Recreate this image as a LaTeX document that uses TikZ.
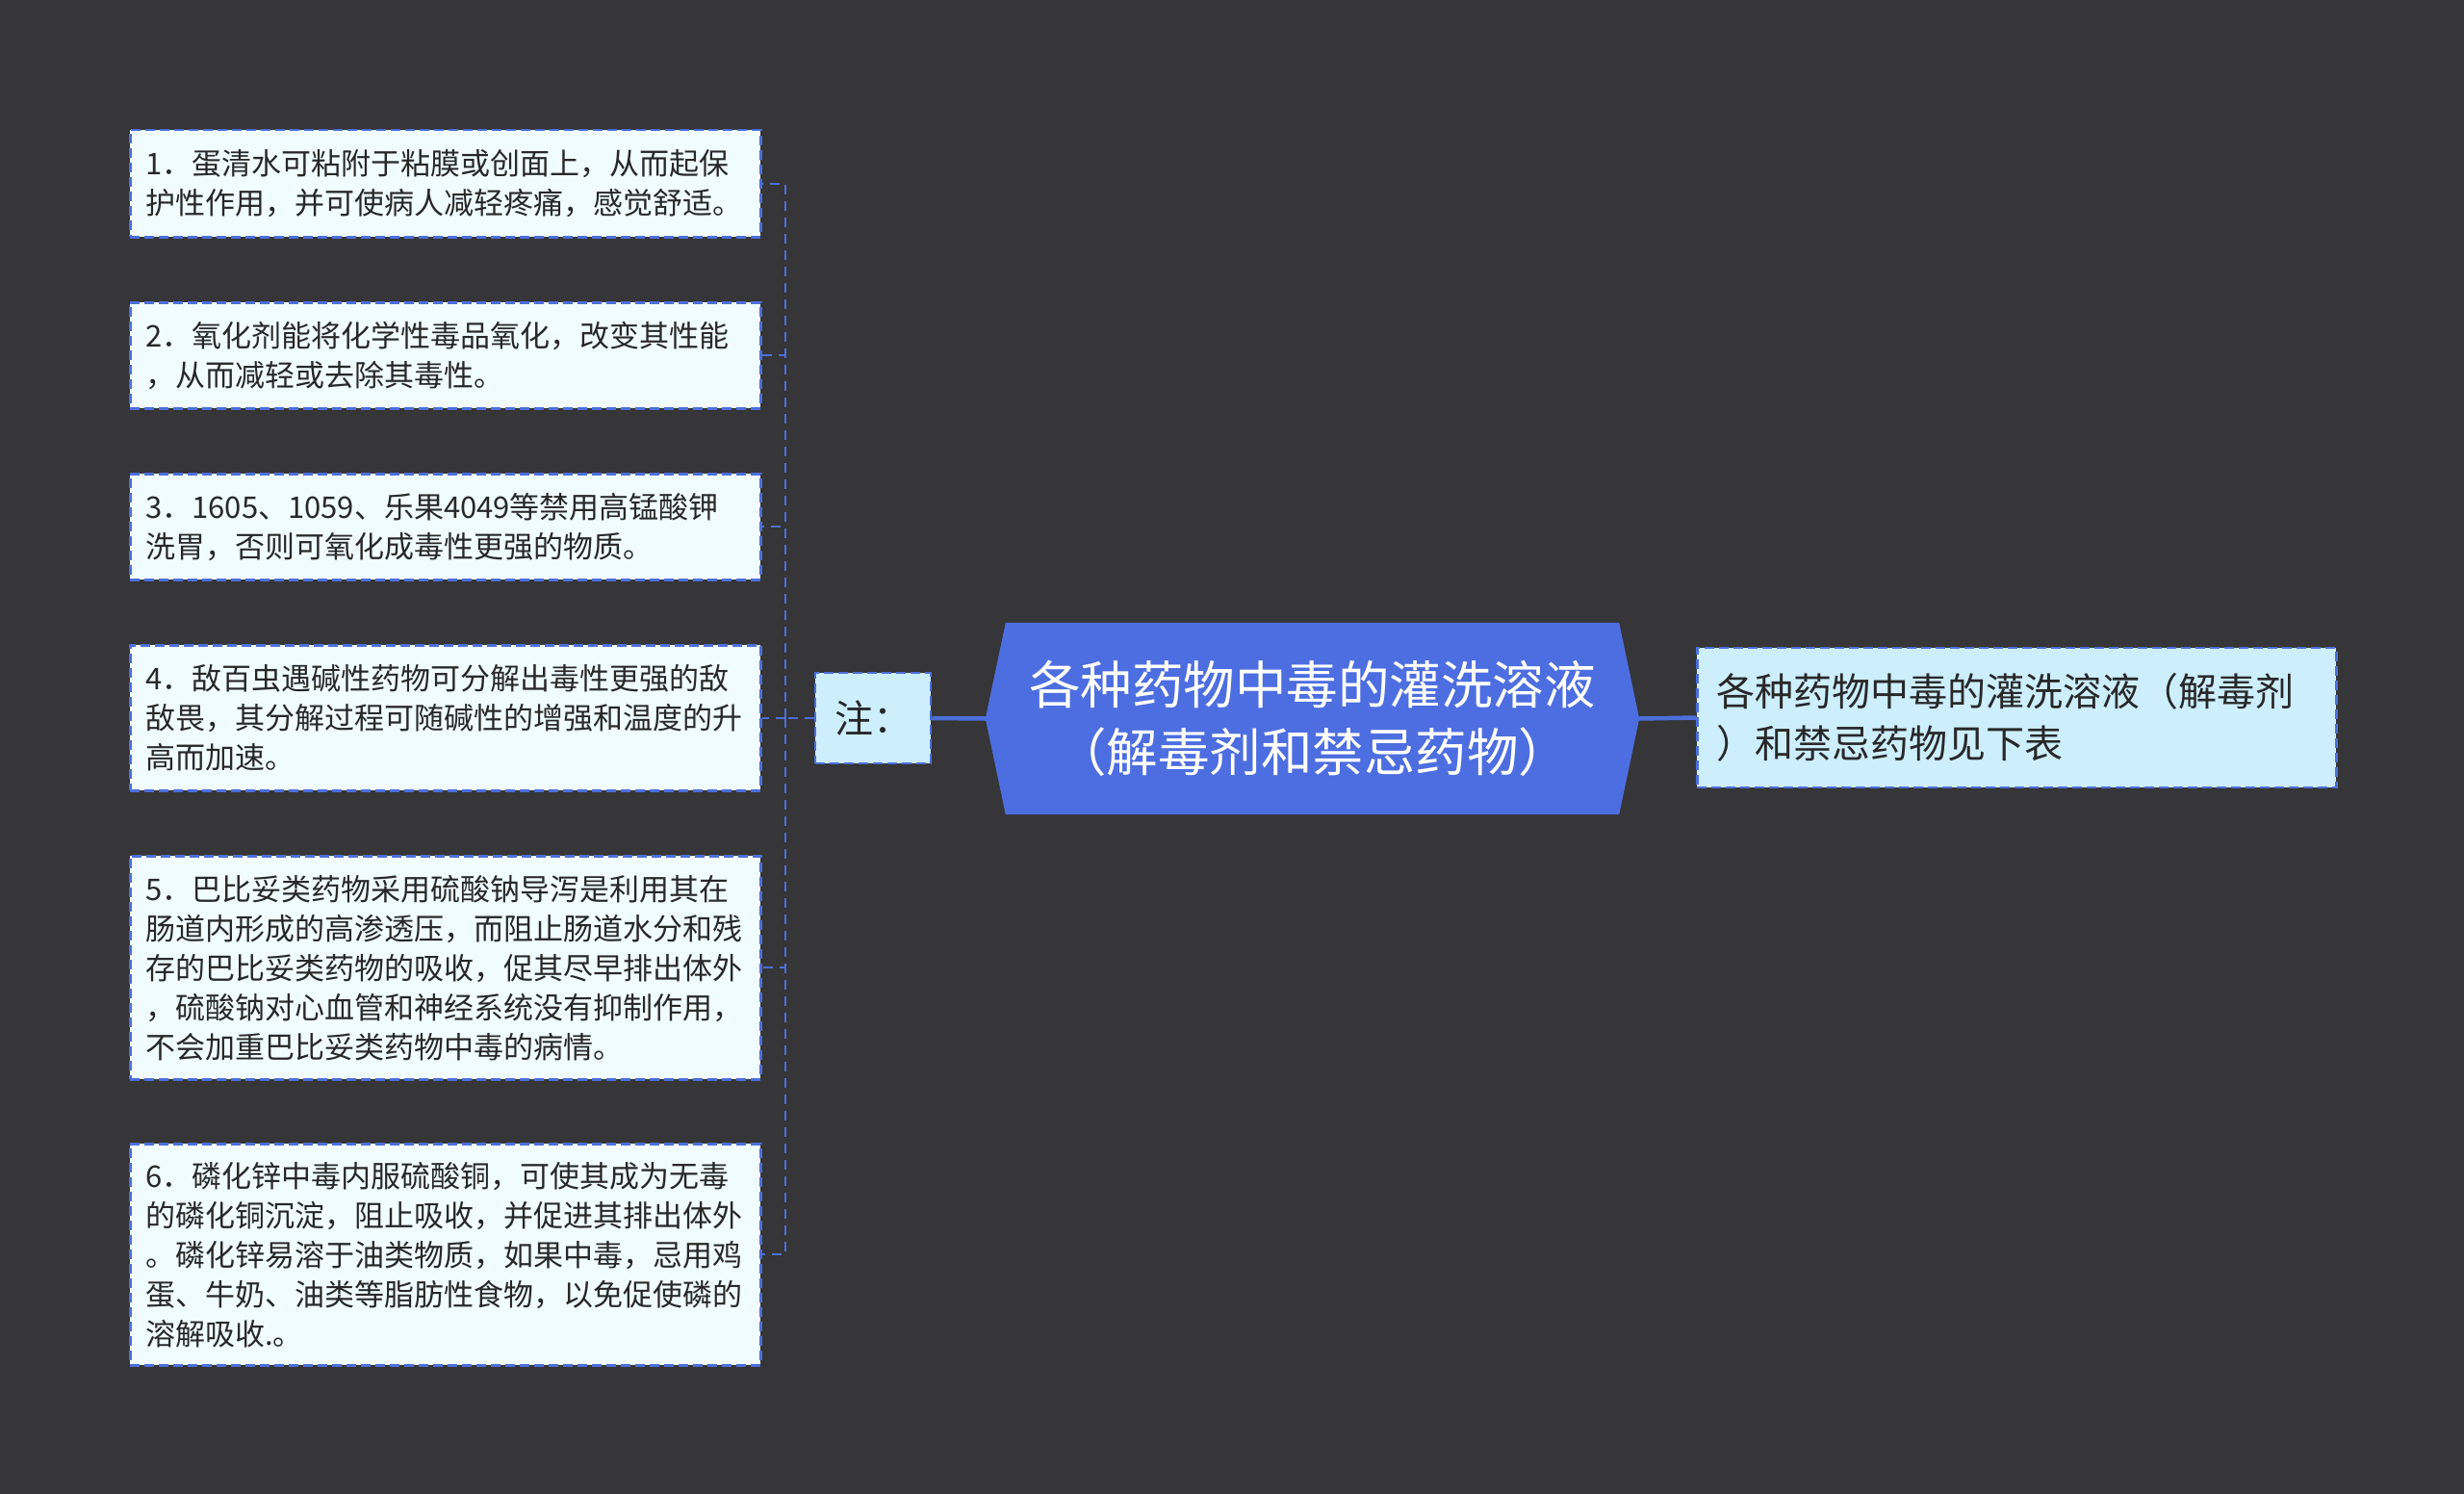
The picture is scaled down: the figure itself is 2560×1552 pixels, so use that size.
\documentclass[tikz,border=0pt]{standalone}
\usepackage{fontspec}
\setmainfont{Noto Sans CJK SC}
\usetikzlibrary{backgrounds}
\definecolor{bgc}{RGB}{54,53,55}
\definecolor{notefill}{RGB}{240,252,255}
\definecolor{lightfill}{RGB}{204,238,253}
\definecolor{edgeblue}{RGB}{76,111,219}
\definecolor{rootblue}{RGB}{77,110,224}
\definecolor{txt}{RGB}{40,40,40}
\tikzset{
  notebox/.style={draw=edgeblue, fill=notefill, line width=2.5pt, dash pattern=on 10pt off 5pt,
    anchor=north west, text width=623pt, inner xsep=16pt, inner ysep=0pt, align=left,
    font=\fontsize{31pt}{41pt}\selectfont, text=txt},
  lightbox/.style={draw=edgeblue, fill=lightfill, line width=2.5pt, dash pattern=on 10pt off 5pt,
    inner xsep=20pt, inner ysep=0pt, align=left, font=\fontsize{40pt}{54pt}\selectfont, text=txt},
  roottext/.style={inner sep=0pt, align=center, text=white, font=\fontsize{53.5pt}{70pt}\selectfont},
  rootshape/.style={fill=rootblue},
  trunkline/.style={draw=edgeblue, line width=2pt, dash pattern=on 10pt off 7pt},
  mainline/.style={draw=edgeblue, line width=4.5pt}
}
\begin{document}
\begin{tikzpicture}[x=1pt,y=-1pt]
\useasboundingbox (0,0) rectangle (2560,1552);
\begin{scope}[on background layer]
\fill[bgc] (0,0) rectangle (2560,1552);
\end{scope}

\node[notebox, minimum height=111pt] (b1) at (134,134) {1．蛋清水可粘附于粘膜或创面上，从而起保\\护性作用，并可使病人减轻疼痛，感觉舒适。};
\node[notebox, minimum height=110pt] (b2) at (134,313) {2．氧化剂能将化学性毒品氧化，改变其性能\\，从而减轻或去除其毒性。};
\node[notebox, minimum height=110pt] (b3) at (134,491) {3．1605、1059、乐果4049等禁用高锰酸钾\\洗胃，否则可氧化成毒性更强的物质。};
\node[notebox, minimum height=151pt] (b4) at (134,669) {4．敌百虫遇碱性药物可分解出毒性更强的敌\\敌畏，其分解过程可随碱性的增强和温度的升\\高而加速。};
\node[notebox, minimum height=232pt] (b5) at (134,888) {5．巴比妥类药物采用硫酸钠导泻是利用其在\\肠道内形成的高渗透压，而阻止肠道水分和残\\存的巴比妥类药物的吸收，促其尽早排出体外\\，硫酸钠对心血管和神经系统没有抑制作用，\\不会加重巴比妥类药物中毒的病情。};
\node[notebox, minimum height=230pt] (b6) at (134,1187) {6．磷化锌中毒内服硫酸铜，可使其成为无毒\\的磷化铜沉淀，阻止吸收，并促进其排出体外\\。磷化锌易溶于油类物质，如果中毒，忌用鸡\\蛋、牛奶、油类等脂肪性食物，以免促使磷的\\溶解吸收.。};

\node[lightbox, minimum width=120pt, minimum height=94pt] (zhu) at (907,746) {注：};

\node[roottext, minimum width=637pt, minimum height=199pt] (root) at (1363.5,746.5) {各种药物中毒的灌洗溶液\\（解毒剂和禁忌药物）};
\coordinate (rootL) at ([xshift=-21pt]root.west);
\coordinate (rootR) at ([xshift=21pt]root.east);
\begin{scope}[on background layer]
\fill[rootshape] (root.north west) -- (root.north east) -- (rootR) -- (root.south east) -- (root.south west) -- (rootL) -- cycle;
\end{scope}

\node[lightbox, anchor=west, minimum width=664pt, minimum height=145pt, text width=624pt] (rbox) at (1762,745.5) {各种药物中毒的灌洗溶液（解毒剂\\）和禁忌药物见下表};

\coordinate (trunk) at (816,746);
\draw[mainline] (zhu.east) -- (rootL);
\draw[mainline] (rootR) -- (rbox.west);
\draw[trunkline] (zhu.west) -- (trunk);
\foreach \b in {b1,b2,b3,b4,b5,b6}{
  \draw[trunkline] (trunk) |- (\b.east);
}
\end{tikzpicture}
\end{document}
